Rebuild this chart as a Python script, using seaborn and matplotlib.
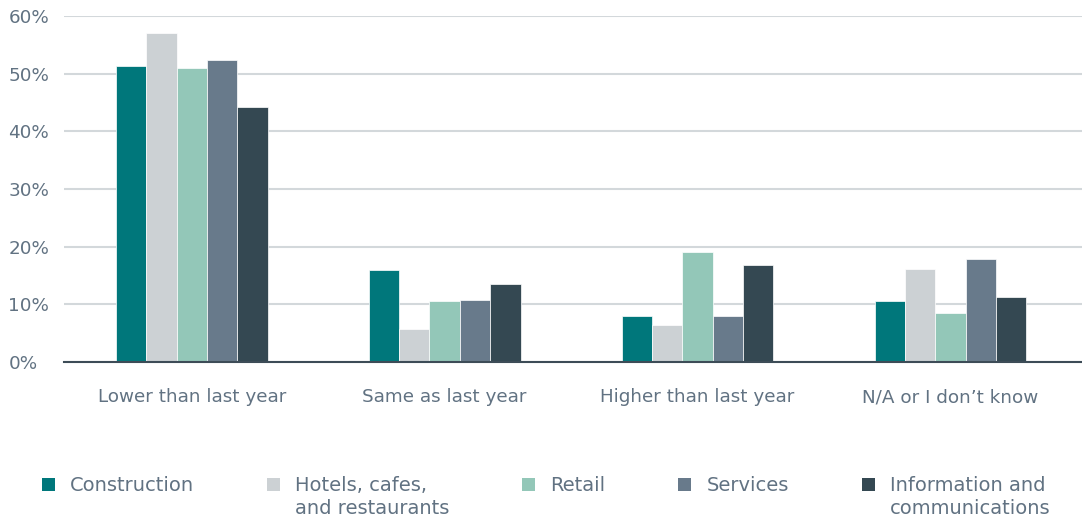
import matplotlib
matplotlib.use("Agg")
import matplotlib.pyplot as plt
import seaborn as sns
import pandas as pd
from matplotlib.patches import Patch, Rectangle
from matplotlib.legend_handler import HandlerPatch

categories = ["Lower than last year", "Same as last year", "Higher than last year", "N/A or I don\u2019t know"]
series = ["Construction", "Hotels, cafes,\nand restaurants", "Retail", "Services", "Information and\ncommunications"]
construction = [51.3, 16.0, 7.9, 10.6]
hotels = [57.0, 5.8, 6.5, 16.2]
retail = [51.0, 10.5, 19.0, 8.5]
services = [52.3, 10.7, 8.0, 17.8]
info = [44.3, 13.6, 16.8, 11.3]
colors = ["#00777b", "#ccd1d4", "#93c7b8", "#687a8b", "#344852"]
yticks = [0, 10, 20, 30, 40, 50, 60]

values = [construction, hotels, retail, services, info]
rows = []
for s, vals in zip(series, values):
    for c, v in zip(categories, vals):
        rows.append({"category": c, "series": s, "value": v})
df = pd.DataFrame(rows)

sns.set_theme(style="white")
plt.rcParams["font.family"] = ["DejaVu Sans"]
text_color = "#617282"

fig = plt.figure(figsize=(10.82, 5.21), dpi=100)
ax = fig.add_axes([64 / 1082, 1 - 362 / 521, (1082 - 64) / 1082, (362 - 16) / 521])

sns.barplot(data=df, x="category", y="value", hue="series", hue_order=series,
            order=categories, palette=colors, saturation=1, width=0.6, gap=0, ax=ax,
            edgecolor="white", linewidth=0.5, legend=False, errorbar=None)

ax.set_ylim(0, 60)
ax.set_xlim(-0.505, 3.52)
ax.set_yticks(yticks)
ax.set_yticklabels([f"{t}%" for t in yticks])
ax.yaxis.grid(True, color="#d3d8db", linewidth=1.5)
ax.set_axisbelow(True)
for sp in ["top", "right", "left"]:
    ax.spines[sp].set_visible(False)
ax.spines["bottom"].set_color("#3d4c57")
ax.spines["bottom"].set_linewidth(1.5)
ax.set_xlabel("")
ax.set_ylabel("")
ax.tick_params(axis="x", length=0, pad=19, labelsize=13.2, labelcolor=text_color)
ax.tick_params(axis="y", length=0, pad=40, labelsize=13.2, labelcolor=text_color)
for lbl in ax.get_yticklabels():
    lbl.set_horizontalalignment("left")


def square(legend, orig_handle, xdescent, ydescent, width, height, fontsize):
    return Rectangle((-xdescent, -ydescent + 9.5), width, height)


handles = [Patch(facecolor=c, edgecolor="none") for c in colors]
labels = [s if "\n" in s else s + "\n " for s in series]
leg = fig.legend(handles, labels, ncol=5, loc="upper left", bbox_to_anchor=(42 / 1082, 1 - 476 / 521),
                 frameon=False, fontsize=14, handlelength=0.67, handleheight=0.67,
                 handletextpad=0.77, columnspacing=3.75, labelcolor=text_color,
                 borderpad=0, borderaxespad=0,
                 handler_map={Patch: HandlerPatch(patch_func=square)})
for t in leg.get_texts():
    t.set_linespacing(1.25)

fig.savefig("out.png", dpi=100)
